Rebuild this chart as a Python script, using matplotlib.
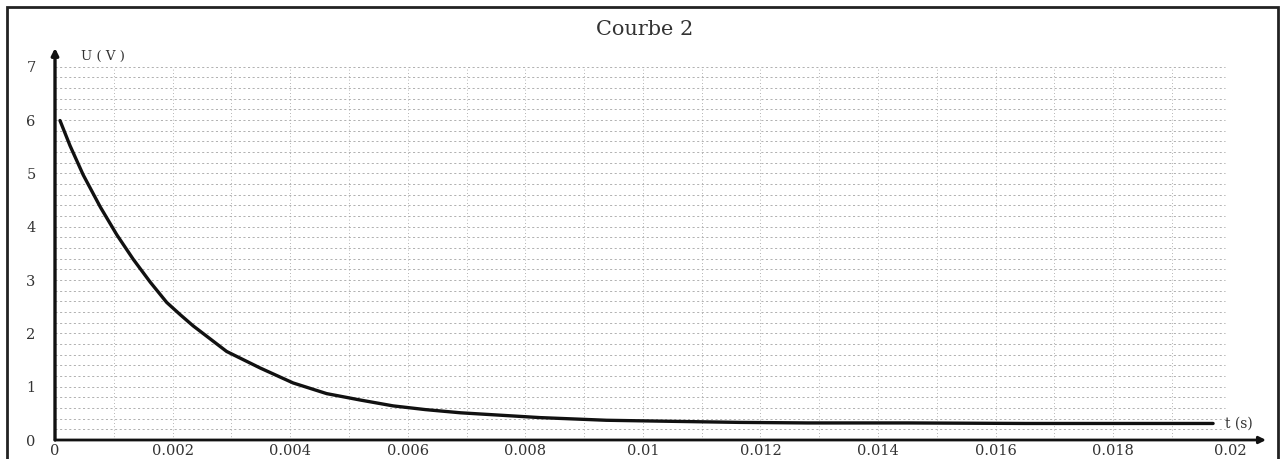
import matplotlib
matplotlib.use('Agg')
import matplotlib.pyplot as plt
import numpy as np

# data (t in seconds, U in volts)
t = [0.000085, 0.000255, 0.00048, 0.00077, 0.00105, 0.00133, 0.00162, 0.0019, 0.00213,
     0.00235, 0.00292, 0.00349, 0.00405, 0.00462, 0.00519, 0.00575, 0.0063, 0.0069,
     0.00825, 0.00938, 0.0105, 0.01165, 0.0128, 0.0145, 0.0165, 0.0182, 0.0197]
u = [5.99, 5.52, 4.97, 4.37, 3.85, 3.39, 2.96, 2.58, 2.35,
     2.14, 1.66, 1.35, 1.07, 0.87, 0.75, 0.64, 0.57, 0.51,
     0.42, 0.37, 0.35, 0.33, 0.32, 0.32, 0.31, 0.31, 0.31]

x_ticks = [0, 0.002, 0.004, 0.006, 0.008, 0.01, 0.012, 0.014, 0.016, 0.018, 0.02]
x_labels = ['0', '0.002', '0.004', '0.006', '0.008', '0.01', '0.012', '0.014', '0.016', '0.018', '0.02']
y_ticks = [0, 1, 2, 3, 4, 5, 6, 7]

font = 'DejaVu Serif'
txt_col = '#333333'

fig = plt.figure(figsize=(12.84, 4.59), dpi=100)
# outer frame around the whole picture (bottom edge cut off in the scan)
fig.patches.append(plt.Rectangle((7/1284, -5/459), 1271/1284, 457/459, transform=fig.transFigure,
                                 fill=False, lw=2, ec='#222222'))

ax = fig.add_axes([55/1284, 19/459, 1211/1284, 392/459])
ax.set_xlim(0, 0.0206)
ax.set_ylim(0, 7.35)

# dotted grid (scanned graph paper)
for gx in np.arange(0.001, 0.0195, 0.001):
    ax.vlines(gx, 0, 7.0, colors='#9c9c9c', linestyles=(0, (1, 3)), lw=0.6)
for gy in np.arange(0.2, 7.01, 0.2):
    ax.hlines(gy, 0, 0.0199, colors='#a4a4a4', linestyles=(0, (2.5, 3)), lw=0.6)

# curve
ax.plot(t, u, color='#111111', lw=2.4, solid_capstyle='round', solid_joinstyle='round')

for s in ax.spines.values():
    s.set_visible(False)

# axes with arrows
ax.annotate('', xy=(0.0206, 0), xytext=(0, 0), annotation_clip=False,
            arrowprops=dict(arrowstyle='-|>', lw=2, color='#111111', mutation_scale=10, shrinkA=0, shrinkB=0))
ax.annotate('', xy=(0, 7.35), xytext=(0, 0), annotation_clip=False,
            arrowprops=dict(arrowstyle='-|>', lw=2.4, color='#111111', mutation_scale=10, shrinkA=0, shrinkB=0))

ax.set_xticks(x_ticks)
ax.set_xticklabels(x_labels, fontfamily=font, fontsize=10.5, color=txt_col)
ax.set_yticks(y_ticks)
ax.set_yticklabels([str(v) for v in y_ticks], fontfamily=font, fontsize=10.5, color=txt_col)
ax.tick_params(axis='both', length=0)
ax.tick_params(axis='x', pad=3)
ax.tick_params(axis='y', pad=14)

ax.text(0.00045, 7.2, 'U ( V )', fontfamily=font, fontsize=9.5, color=txt_col, va='center')
ax.text(0.0199, 0.3, 't (s)', fontfamily=font, fontsize=10, color=txt_col, va='center')
fig.text(0.502, 0.935, 'Courbe 2', fontfamily=font, fontsize=15, color=txt_col, ha='center', va='center')

fig.savefig('out.png', dpi=100)
